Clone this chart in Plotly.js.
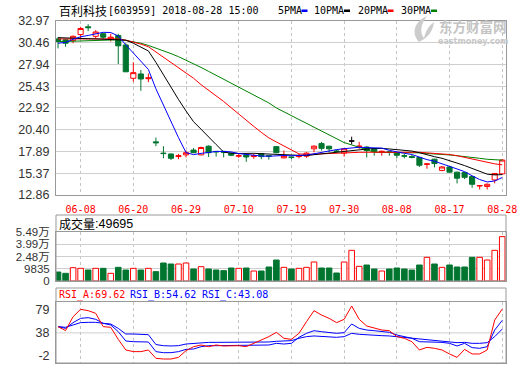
<!DOCTYPE html>
<html><head><meta charset="utf-8">
<script src="https://cdn.plot.ly/plotly-3.0.1.min.js"></script>
<style>html,body{margin:0;padding:0;background:#fff;}#chart{width:520px;height:365px;}</style>
</head><body><div id="chart"></div>
<script>
const stockName = '百利科技';
const stockCode = '[603959] 2018-08-28 15:00';
const dates = ['06-05','06-06','06-07','06-08','06-11','06-12','06-13','06-14','06-15','06-19','06-20','06-21','06-22','06-25','06-26','06-27','06-28','06-29','07-02','07-03','07-04','07-05','07-06','07-09','07-10','07-11','07-12','07-13','07-16','07-17','07-18','07-19','07-20','07-23','07-24','07-25','07-26','07-27','07-30','07-31','08-01','08-02','08-03','08-06','08-07','08-08','08-09','08-10','08-13','08-14','08-15','08-16','08-17','08-20','08-21','08-22','08-23','08-24','08-27','08-28'];
const tickDates = ['06-08','06-20','06-29','07-10','07-19','07-30','08-08','08-17','08-28'];
const priceTicks = [12.86,15.37,17.89,20.40,22.92,25.43,27.94,30.46,32.97];
const volTickText = ['0','9835','2.48万','3.99万','5.49万'];
const rsiTickText = ['79','38','-2'];

const openP = [30.9,30.8,30.7,31.4,32.3,31.2,31.5,30.9,31.3,30.2,26.35,26.85,26.3,19.0,17.7,17.6,17.3,17.5,18.05,17.5,18.5,17.9,17.9,17.7,17.35,17.5,17.3,17.65,17.4,18.45,17.15,17.25,17.3,17.35,18.2,18.8,18.5,17.95,17.7,19.1,18.45,18.4,18.2,17.85,17.85,17.75,17.4,17.3,17.2,16.4,17.0,15.7,16.1,15.5,15.45,15.0,13.9,13.85,14.6,15.3];
const highP = [31.1,30.9,31.3,32.3,32.6,31.9,31.6,31.5,31.5,30.4,28.2,27.3,26.9,19.5,18.5,17.65,17.6,18.0,18.3,18.45,18.6,17.95,17.95,17.75,17.65,17.55,17.6,17.7,17.45,18.5,18.0,17.3,17.6,17.8,18.6,19.0,18.55,18.1,18.3,19.6,19.0,18.5,18.3,18.0,17.9,17.8,17.6,17.5,17.25,16.55,17.05,16.2,16.2,15.55,15.5,15.05,14.0,14.2,15.4,17.0];
const lowP = [29.8,30.0,30.4,30.9,31.8,30.9,30.9,30.6,28.0,27.1,25.95,24.9,25.9,18.5,17.1,16.9,17.0,17.2,17.7,17.45,17.25,17.3,17.2,17.35,17.15,16.7,17.05,17.0,16.95,17.7,17.1,17.0,17.1,17.15,17.8,18.0,17.8,17.8,17.3,18.7,18.2,17.2,17.4,17.4,17.4,17.1,17.1,17.1,16.1,15.9,16.05,15.6,15.45,14.2,14.7,13.7,13.5,13.5,14.2,15.2];
const closeP = [30.6,30.4,31.2,32.1,32.2,31.7,31.1,31.1,30.1,27.1,27.0,26.27,26.4,18.9,17.65,17.1,17.4,17.75,17.75,18.35,17.75,17.85,17.8,17.45,17.4,17.25,17.4,17.3,17.35,17.75,17.35,17.2,17.35,17.7,18.5,18.25,18.2,17.9,18.2,19.1,18.5,18.0,17.9,17.9,17.8,17.45,17.35,17.2,16.3,16.45,16.5,16.1,15.5,14.8,14.9,14.1,13.95,14.1,15.35,16.9];

const ma5 = [30.40,30.50,30.85,31.15,31.30,31.52,31.66,31.64,31.24,30.22,29.28,28.31,27.37,25.13,23.24,21.26,19.49,17.76,17.53,17.67,17.80,17.89,17.90,17.84,17.65,17.55,17.46,17.36,17.34,17.41,17.43,17.39,17.40,17.47,17.62,17.80,18.00,18.11,18.21,18.33,18.38,18.34,18.34,18.28,18.02,17.81,17.68,17.54,17.22,16.95,16.76,16.51,16.17,15.87,15.56,15.08,14.65,14.37,14.48,14.88];
const ma10 = [31.05,31.00,30.98,30.95,30.92,30.90,30.88,30.85,30.80,30.76,30.40,29.99,29.51,28.19,26.73,25.27,23.90,22.57,21.33,20.46,19.53,18.69,17.83,17.69,17.66,17.68,17.68,17.63,17.59,17.53,17.49,17.43,17.38,17.41,17.52,17.62,17.70,17.76,17.84,17.98,18.09,18.17,18.23,18.25,18.18,18.10,18.01,17.94,17.75,17.49,17.29,17.10,16.86,16.55,16.26,15.92,15.58,15.27,15.18,15.22];
const ma20 = [30.90,30.90,30.90,30.92,30.95,30.95,30.95,30.93,30.90,30.75,30.55,30.30,30.00,29.40,28.80,28.20,27.60,27.00,26.35,25.61,24.97,24.34,23.67,22.94,22.20,21.47,20.79,20.10,19.46,18.99,18.51,18.06,17.61,17.55,17.59,17.65,17.69,17.69,17.72,17.75,17.79,17.80,17.80,17.83,17.85,17.86,17.85,17.85,17.80,17.73,17.69,17.63,17.54,17.40,17.22,17.01,16.80,16.61,16.46,16.35];
const ma30 = [30.58,30.60,30.62,30.65,30.68,30.72,30.76,30.80,30.80,30.72,30.60,30.40,30.15,29.85,29.55,29.20,28.85,28.45,28.05,27.60,27.15,26.70,26.25,25.80,25.35,24.90,24.45,24.00,23.50,22.92,22.47,22.03,21.57,21.09,20.64,20.19,19.76,19.32,18.92,18.65,18.37,18.10,17.81,17.78,17.78,17.80,17.79,17.78,17.73,17.66,17.62,17.56,17.49,17.40,17.32,17.21,17.10,16.99,16.92,16.89];

const volume = [10080,8600,14900,14200,12300,14200,14200,8600,15300,12300,14200,12300,14200,10450,20160,19040,19040,20160,13440,16050,13440,12300,11570,14560,14200,14560,11200,11200,15700,23500,15300,13440,14200,15300,21300,14560,14560,8960,21300,34350,16430,17900,13440,11200,13440,14560,13440,12300,17900,26500,19040,15300,17900,15700,15700,26500,26500,23500,34350,49695];

const rsiA = [46.3,41.0,59.5,69.3,67.5,64.0,46.3,45.4,29.4,15.3,13.1,13.1,15.3,4.2,3.3,3.3,5.5,14.4,19.7,21.9,19.7,21.9,20.6,20.6,21.0,19.7,24.1,27.7,33.0,38.7,30.8,29.4,37.4,52.9,67.5,61.7,57.3,51.6,56.0,73.7,56.0,47.1,44.0,41.8,40.9,33.0,30.8,26.3,15.3,18.8,17.5,15.3,10.0,5.5,16.1,10.0,10.0,15.3,55.1,69.62];
const rsiB = [46.3,44.0,51.6,57.3,58.2,56.0,50.7,48.5,39.6,27.2,26.3,26.3,25.9,13.1,11.7,11.7,13.1,16.1,16.6,19.7,21.0,21.0,21.0,21.0,21.0,21.0,21.0,21.5,21.9,24.1,23.2,24.1,32.1,37.4,40.9,39.6,38.3,37.4,38.3,49.8,44.0,41.8,40.9,39.6,38.7,35.2,33.0,30.8,26.3,26.3,26.3,25.4,24.1,20.6,24.1,18.4,17.5,19.7,41.8,54.62];
const rsiC = [46.3,45.4,48.5,51.6,52.0,52.0,50.7,49.8,44.0,36.5,36.5,36.1,35.6,22.5,21.0,20.6,21.0,23.2,24.1,25.0,25.4,25.4,25.4,25.4,25.4,25.4,25.4,25.4,25.9,26.8,27.2,27.7,30.8,33.0,33.9,33.0,32.5,32.1,33.0,37.4,36.1,35.2,34.7,34.3,33.9,33.0,31.6,30.8,29.4,28.5,28.1,27.2,26.3,25.0,25.4,24.1,24.1,25.0,33.0,43.08];

// ---- styling / layout ----
const W = 520, H = 365;
const px = x => x / W, py = y => 1 - y / H;
const L = 56, R = 506;
const RED = '#ff0000', GREEN = '#00752f', BLUE = '#0000ff';
const GRIDC = '#cfcfcf', FRAME = '#999999', VGRID = '#c4c4c4';
const monoFont = 'DejaVu Sans Mono, monospace';
const sansFont = 'Liberation Sans, Arial, Noto Sans CJK SC, sans-serif';
const cjkFont = 'Noto Sans CJK SC, sans-serif';

const n = dates.length;
const isFlat = openP.map((o, i) => o === closeP[i]);
const isUp = openP.map((o, i) => closeP[i] > o || (closeP[i] === o && (i === 0 || closeP[i] >= closeP[i - 1])));

const nn = (arr) => arr.map((v, i) => isFlat[i] ? null : v);
const ff = (arr) => arr.map((v, i) => isFlat[i] ? v : null);

const traces = [
  {type: 'candlestick', x: dates, open: nn(openP), high: nn(highP), low: nn(lowP), close: nn(closeP),
   xaxis: 'x', yaxis: 'y', whiskerwidth: 0,
   increasing: {line: {color: RED, width: 1}, fillcolor: '#ffffff'},
   decreasing: {line: {color: GREEN, width: 1}, fillcolor: GREEN}, hoverinfo: 'skip'},
  {type: 'candlestick', x: dates, open: ff(openP), high: ff(highP), low: ff(lowP), close: ff(closeP),
   xaxis: 'x', yaxis: 'y', whiskerwidth: 0,
   increasing: {line: {color: '#000000', width: 1}, fillcolor: '#000000'},
   decreasing: {line: {color: '#000000', width: 1}, fillcolor: '#000000'}, hoverinfo: 'skip'},
  {type: 'scatter', mode: 'lines', x: dates, y: ma30, line: {color: '#008000', width: 1}, xaxis: 'x', yaxis: 'y'},
  {type: 'scatter', mode: 'lines', x: dates, y: ma20, line: {color: RED, width: 1}, xaxis: 'x', yaxis: 'y'},
  {type: 'scatter', mode: 'lines', x: dates, y: ma10, line: {color: '#000000', width: 1}, xaxis: 'x', yaxis: 'y'},
  {type: 'scatter', mode: 'lines', x: dates, y: ma5, line: {color: BLUE, width: 1}, xaxis: 'x', yaxis: 'y'},
  {type: 'bar', x: dates, y: volume, width: 0.74, xaxis: 'x2', yaxis: 'y2',
   marker: {color: isUp.map(u => u ? '#ffffff' : GREEN), line: {color: isUp.map(u => u ? RED : GREEN), width: 1}}},
  {type: 'scatter', mode: 'lines', x: dates, y: rsiC, line: {color: BLUE, width: 1}, xaxis: 'x3', yaxis: 'y3'},
  {type: 'scatter', mode: 'lines', x: dates, y: rsiB, line: {color: BLUE, width: 1}, xaxis: 'x3', yaxis: 'y3'},
  {type: 'scatter', mode: 'lines', x: dates, y: rsiA, line: {color: RED, width: 1}, xaxis: 'x3', yaxis: 'y3'}
];

const xBase = {
  domain: [px(L), px(R)], type: 'category', range: [-0.27, 59.5], tickmode: 'array',
  tickvals: tickDates, ticktext: tickDates, showgrid: true, gridcolor: VGRID, griddash: '3px,3px', gridwidth: 1,
  showline: true, mirror: true, linecolor: FRAME, linewidth: 1, zeroline: false, fixedrange: true,
  rangeslider: {visible: false}
};
const yBase = {
  showline: true, mirror: true, linecolor: FRAME, linewidth: 1, zeroline: false, fixedrange: true,
  showgrid: true, gridcolor: GRIDC, gridwidth: 1, ticks: 'outside', ticklen: 3, tickcolor: 'rgba(0,0,0,0)',
  tickfont: {family: sansFont, size: 12.5, color: '#333333'}, tickmode: 'array'
};

// watermark logo outline (decoration), in pixel units
const logoPts = [[419,42],[411,33,414,22,427,16],[420,25,420,33,424,38],[426,30,429,26,434,22],[433,31,428,38,419,42]];
const logoPath = 'M ' + px(logoPts[0][0]) + ',' + py(logoPts[0][1]) + ' ' +
  logoPts.slice(1).map(p => 'C ' + px(p[0]) + ',' + py(p[1]) + ' ' + px(p[2]) + ',' + py(p[3]) + ' ' + px(p[4]) + ',' + py(p[5])).join(' ') + ' Z';

const layout = {
  width: W, height: H, margin: {l: 0, r: 0, t: 0, b: 0}, paper_bgcolor: '#ffffff', plot_bgcolor: '#ffffff',
  showlegend: false, boxgap: 0.2, boxgroupgap: 0.15, bargap: 0.28,
  font: {family: sansFont, size: 12, color: '#333333'},
  xaxis: Object.assign({}, xBase, {anchor: 'y', ticks: 'outside', ticklen: 5, tickcolor: 'rgba(0,0,0,0)',
    tickfont: {family: monoFont, size: 10, color: RED}}),
  yaxis: Object.assign({}, yBase, {anchor: 'x', domain: [py(195), py(21)], range: [12.86, 32.97],
    tickvals: priceTicks, ticktext: priceTicks.map(v => v.toFixed(2))}),
  xaxis2: Object.assign({}, xBase, {anchor: 'y2', matches: 'x', showticklabels: false}),
  yaxis2: Object.assign({}, yBase, {anchor: 'x2', domain: [py(281), py(232)], range: [0, 54900],
    tickvals: volTickText.map((t, i) => i * 54900 / (volTickText.length - 1)), ticktext: volTickText,
    tickfont: {family: sansFont, size: 11.5, color: '#333333'}}),
  xaxis3: Object.assign({}, xBase, {anchor: 'y3', matches: 'x', showticklabels: false}),
  yaxis3: Object.assign({}, yBase, {anchor: 'x3', domain: [py(363), py(302)], range: [-2, 79],
    showgrid: false, tickvals: [68.4, 38, 7.3], ticktext: rsiTickText}),
  shapes: [
    {type: 'rect', xref: 'paper', yref: 'paper', x0: px(L), x1: px(R), y0: py(281), y1: py(215), line: {color: FRAME, width: 1}},
    {type: 'rect', xref: 'paper', yref: 'paper', x0: px(L), x1: px(R), y0: py(363), y1: py(288), line: {color: FRAME, width: 1}},
    {type: 'line', xref: 'x3 domain', yref: 'y3', x0: 0, x1: 1, y0: 38, y1: 38, line: {color: GRIDC, width: 1}, layer: 'below'},
    {type: 'rect', xref: 'paper', yref: 'paper', x0: px(301.5), x1: px(307.5), y0: py(12), y1: py(9.5), fillcolor: BLUE, line: {width: 0}},
    {type: 'rect', xref: 'paper', yref: 'paper', x0: px(344), x1: px(350), y0: py(12), y1: py(9.5), fillcolor: '#000000', line: {width: 0}},
    {type: 'rect', xref: 'paper', yref: 'paper', x0: px(387.5), x1: px(393.5), y0: py(12), y1: py(9.5), fillcolor: RED, line: {width: 0}},
    {type: 'rect', xref: 'paper', yref: 'paper', x0: px(431), x1: px(437), y0: py(12), y1: py(9.5), fillcolor: '#008000', line: {width: 0}},
    {type: 'path', xref: 'paper', yref: 'paper', path: logoPath, fillcolor: '#cccccc', line: {width: 0}}
  ],
  annotations: []
};

function ann(text, x, y, font, xanchor) {
  layout.annotations.push({text: text, xref: 'paper', yref: 'paper', x: px(x), y: py(y), xanchor: xanchor || 'left',
    yanchor: 'middle', showarrow: false, font: font});
}
ann(stockName, 57, 10, {family: cjkFont, size: 12, color: '#000'});
ann(stockCode, 106, 10.5, {family: monoFont, size: 10, color: '#000'});
ann('5PMA', 275.5, 10.5, {family: monoFont, size: 10, color: '#000'});
ann('10PMA', 311.5, 10.5, {family: monoFont, size: 10, color: '#000'});
ann('20PMA', 355.5, 10.5, {family: monoFont, size: 10, color: '#000'});
ann('30PMA', 399, 10.5, {family: monoFont, size: 10, color: '#000'});
ann('东方财富网', 472.5, 26, {family: cjkFont, size: 13.5, color: '#c4c4c4', weight: 'bold'}, 'center');
ann('eastmoney.com', 472.5, 41.5, {family: 'DejaVu Sans, sans-serif', size: 8, color: '#c8c8c8', weight: 'bold'}, 'center');
ann('成交量', 57, 223.5, {family: cjkFont, size: 12, color: '#000'});
ann(':' + volume[n - 1], 92.5, 223.5, {family: sansFont, size: 12.5, color: '#000'});
ann('RSI_A:' + rsiA[n - 1].toFixed(2), 57, 295, {family: monoFont, size: 10, color: RED});
ann('RSI_B:' + rsiB[n - 1].toFixed(2), 128, 295, {family: monoFont, size: 10, color: BLUE});
ann('RSI_C:' + rsiC[n - 1].toFixed(2), 200, 295, {family: monoFont, size: 10, color: BLUE});

Plotly.newPlot('chart', traces, layout, {displayModeBar: false, staticPlot: true});
</script>
</body></html>
